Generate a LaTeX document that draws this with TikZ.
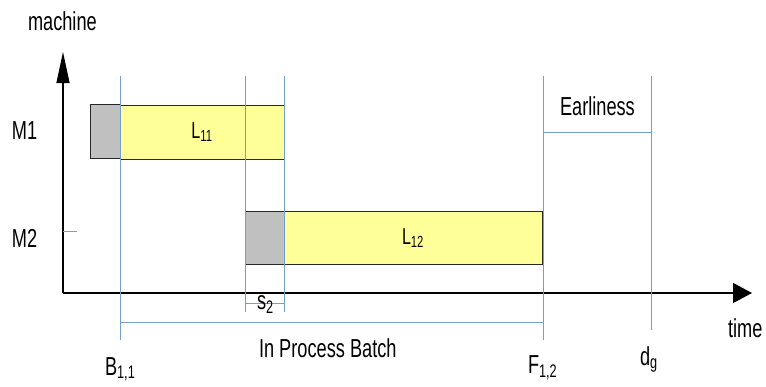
\documentclass[tikz,border=0pt]{standalone}
\usepackage{fontspec}
\setmainfont{Liberation Sans}[FakeStretch=0.70]
\usetikzlibrary{arrows.meta}
\definecolor{guide}{RGB}{114,159,207}
\definecolor{taskyellow}{RGB}{255,255,153}
\definecolor{setupgray}{RGB}{192,192,192}
\definecolor{boxline}{RGB}{40,40,40}
\tikzset{
  axis/.style={line width=1.2pt, black},
  guideline/.style={line width=1pt, guide},
  taskbox/.style={draw=boxline, line width=1pt, inner sep=0pt, outer sep=0pt},
  lbl/.style={inner sep=0pt, outer sep=0pt, font=\fontsize{26}{30}\selectfont},
  boxlbl/.style={font=\fontsize{23}{27}\selectfont}
}
\begin{document}
\begin{tikzpicture}[x=1pt,y=-1pt]
\useasboundingbox (0,0) rectangle (766,386);
% axes
\coordinate (O) at (63,293);
\coordinate (ytop) at (63,52);
\coordinate (xend) at (752,293);
\draw[axis, -{Triangle[length=31pt,width=13pt]}] (O) -- (ytop);
\draw[axis, -{Triangle[length=19pt,width=20pt]}] (O) -- (xend);
% M2 tick
\coordinate (t1) at (63,231);
\coordinate (t2) at (77,231);
\draw[guideline] (t1) -- (t2);
% boxes
\node[taskbox, fill=setupgray, minimum width=30pt, minimum height=54pt] (s11) at (105,131) {};
\node[taskbox, fill=taskyellow, minimum width=164pt, minimum height=54pt, boxlbl] (L11) at (202,132) {L\textsubscript{11}};
\node[taskbox, fill=setupgray, minimum width=39pt, minimum height=53pt] (s12) at (264.5,237.5) {};
\node[taskbox, fill=taskyellow, minimum width=258pt, minimum height=53pt, boxlbl] (L12) at (413,238) {L\textsubscript{12}};
% guide lines
\coordinate (gBt) at (120,76);  \coordinate (gBb) at (120,340);
\coordinate (gSt) at (245,76);  \coordinate (gSb) at (245,312);
\coordinate (gEt) at (284,76);  \coordinate (gEb) at (284,312);
\coordinate (gFt) at (543,76);  \coordinate (gFb) at (543,340);
\coordinate (gDt) at (651,76);  \coordinate (gDb) at (651,330);
\draw[guideline] (gBt) -- (gBb);
\draw[guideline] (gSt) -- (gSb);
\draw[guideline] (gEt) -- (gEb);
\draw[guideline] (gFt) -- (gFb);
\draw[guideline] (gDt) -- (gDb);
\coordinate (eL) at (543,132); \coordinate (eR) at (651,132);
\draw[guideline] (eL) -- (eR);
\coordinate (pL) at (120,322); \coordinate (pR) at (543,322);
\draw[guideline] (pL) -- (pR);
\coordinate (sL) at (245,303); \coordinate (sR) at (284,303);
\draw[guideline] (sL) -- (sR);
% labels
\node[lbl, anchor=base west] (machine) at (28,30) {machine};
\node[lbl, anchor=base west] (m1) at (12,139) {M1};
\node[lbl, anchor=base west] (m2) at (12,247) {M2};
\node[lbl, anchor=base west] (earl) at (560,115) {Earliness};
\node[lbl, anchor=base west] (ipb) at (259,357) {In Process Batch};
\node[lbl, anchor=base west] (b11) at (105,375) {B\textsubscript{1,1}};
\node[lbl, anchor=base west] (f12) at (528,373) {F\textsubscript{1,2}};
\node[lbl, anchor=base west] (dg) at (640,365) {d\textsubscript{g}};
\node[lbl, anchor=base west] (time) at (728,337) {time};
\node[lbl, anchor=base west] (s2) at (257,309) {s\textsubscript{2}};
\end{tikzpicture}
\end{document}
